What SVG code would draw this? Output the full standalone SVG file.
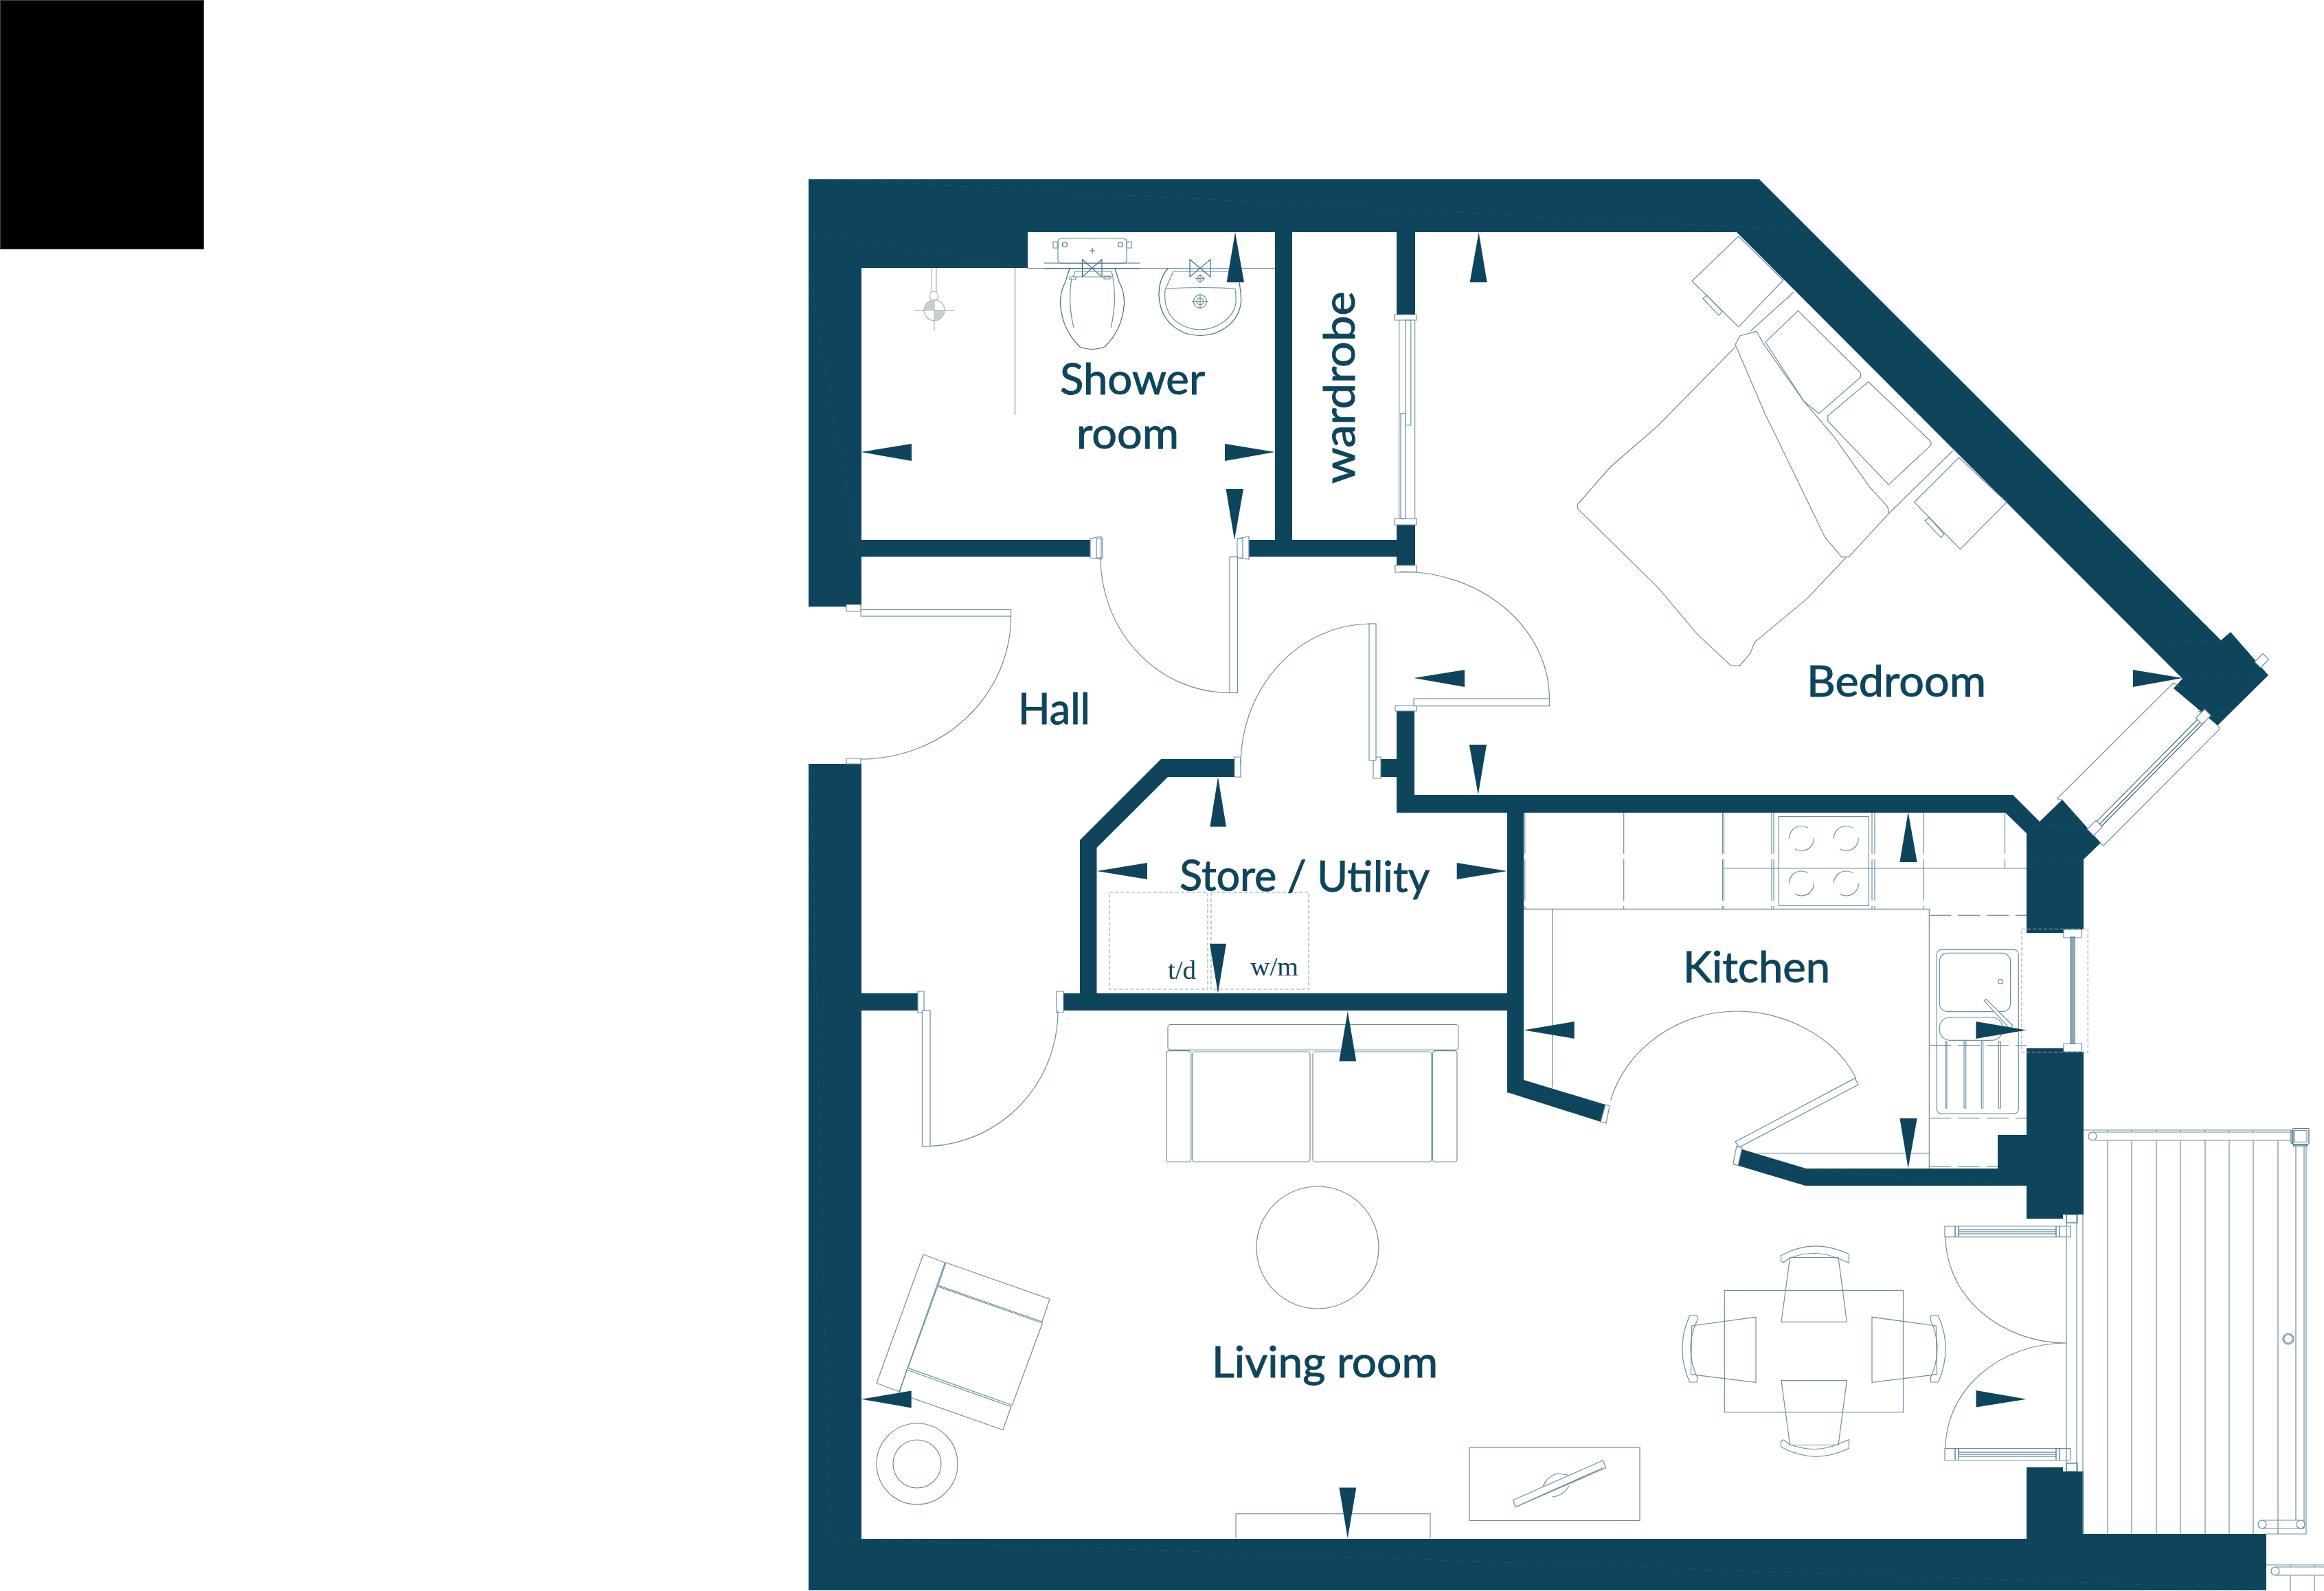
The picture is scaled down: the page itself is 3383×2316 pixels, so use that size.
<svg xmlns="http://www.w3.org/2000/svg" xmlns:xlink="http://www.w3.org/1999/xlink" width="3383" height="2316" viewBox="0 0 3383 2316">
<style>
.w{fill:#0f455c}
.a{fill:#0f455c}
.l{fill:none;stroke:#6c909f;stroke-width:1.2}
.d{fill:none;stroke:#3f6c80;stroke-width:1.2}
.f{fill:#fff;stroke:#6c909f;stroke-width:1.2}
.g{fill:none;stroke:#a9b4b8;stroke-width:1.2}
.h{fill:none;stroke:#6c909f;stroke-width:1.2;stroke-dasharray:60 8}
.k{fill:none;stroke:#6c909f;stroke-width:1.2;stroke-dasharray:32 10}
.s{fill:none;stroke:#8ba6b1;stroke-width:1.1;stroke-dasharray:5 3}
.x{fill:none;stroke:#1c5269;stroke-width:1;stroke-dasharray:14 10}
.t{fill:#0f455c;stroke:#0f455c;stroke-width:1;font-family:"Lato","Liberation Sans",sans-serif;font-size:62px}
.u{fill:#0f455c;font-family:"Liberation Serif",serif;font-size:37px}
</style>
<defs>
<g id="chair">
<path class="l" d="M2593 1924.4H2688.4L2676 1830.5H2605.6Z"/>
<path class="l" d="M2592.5 1827.7Q2641 1801 2691.5 1825.7L2691.5 1838.3L2676 1832Q2641 1817 2604 1832L2596 1838.3L2592.5 1835Z"/>
</g>
<g id="chairside">
<path class="l" d="M2556 1917.3V2012.4L2461.4 2000.6L2462.7 1930Z"/>
<path class="l" d="M2459.6 1915L2470 1915L2471 1921Q2451 1963 2471 2006L2470 2012L2459.6 2012Q2438 1963 2459.6 1915Z"/>
</g>
</defs>

<rect id="black-block" x="0.5" y="0.5" width="296" height="362" fill="#000" stroke="#444" stroke-width="1"/>

<g id="walls">
<polygon class="w" points="1177,261 2561,261 3233,932 3247,920 3302,983 3228,1056 3164,1002 3177,988 2528,338 1496,338 1496,390 1254,390 1254,883 1177,883"/>
<polygon class="w" points="1177,1112 1254,1112 1254,2240 2950,2240 2950,2136 3003,2136 3003,2142 3033,2142 3033,2233 3299,2233 3299,2315 1177,2315"/>
<rect class="w" x="1254" y="786" width="342" height="24.5"/>
<rect class="w" x="1809" y="786" width="224" height="24.5"/>
<rect class="w" x="1856" y="338" width="25" height="448"/>
<rect class="w" x="2033" y="338" width="27" height="120"/>
<rect class="w" x="2033" y="762" width="27" height="62"/>
<polygon class="w" points="2033,1035 2059,1035 2059,1157 2930,1157 2969,1196 3002,1164 3058,1227 3033,1251 3033,1353 3004,1353 3004,1358 2950,1358 2950,1213 2919,1183 2033,1183"/>
<rect class="w" x="2010" y="1105" width="25" height="26"/>
<polygon class="w" points="1690,1105 1797,1105 1797,1131 1700,1131 1596.5,1234 1596.5,1446 1572,1446 1572,1223"/>
<rect class="w" x="1548" y="1446" width="670" height="25"/>
<rect class="w" x="1254" y="1446" width="82" height="25"/>
<polygon class="w" points="2194,1183 2218,1183 2218,1572 2337,1608 2330,1633 2194,1590"/>
<polygon class="w" points="2950,1526 3004,1526 3004,1531 3033,1531 3033,1768 3003,1768 3003,1774 2950,1774 2950,1726 2628,1726 2524,1695 2536,1673 2629,1701 2908,1701 2908,1652 2950,1652"/>
<path class="x" d="M1206 261L2630 336M1177 337L1496 390M1178 395L1254 840M1180 1112L1208 2240L3297 2313M3127 933H3233M3172 982.5H3300M3165 1001.5H3282M3200 1036H3248M2960 1201.5H3032M2960 1250H3033M2524 1695L2950 1726M2194 1590L2337 1608"/>
</g>

<g id="jambs">
<path class="f" d="M1232 880h21v10h-21zM1232 1104h21v8h-21zM1596 784h9v28h-9zM1587 784l16 -3v33l-16 -2zM1801 784h8v28h-8zM1818 781l-17 3v28l17 2zM2030 458h32v8h-32zM2030 755h32v9h-32zM2031 823h31v10h-31zM2031 1027h31v8h-31zM1797 1102h9v29h-9zM1999 1102h11v31h-11zM1336 1443h9v31h-9zM1538 1443h10v31h-10z"/>
<path class="f" d="M2337 1608l6 2l-5 25l-8 -2zM2528 1668l8 3l-6 26l-7 -3z"/>
</g>

<g id="doors">
<rect class="f" x="1253.3" y="887.5" width="218.3" height="9.5"/>
<path class="l" d="M1471.6 897A218 208 0 0 1 1253 1105"/>
<rect class="f" x="1790" y="810.7" width="11.4" height="197.8"/>
<path class="l" d="M1790 1008.5A188 197 0 0 1 1602 811"/>
<rect class="f" x="2058" y="1017" width="197.5" height="10.7"/>
<path class="l" d="M2255.5 1018A216 186 0 0 0 2038 832"/>
<rect class="f" x="1993" y="908" width="10" height="198.7"/>
<path class="l" d="M1993 908A190 205 0 0 0 1806 1112"/>
<rect class="f" x="1342.4" y="1471" width="11.6" height="197.8"/>
<path class="l" d="M1354 1668.5A195 197 0 0 0 1540 1471"/>
<polygon class="f" points="2526,1662 2700,1569.6 2705,1579 2532,1670"/>
<path class="l" d="M2702 1570C2672 1510 2600 1472 2528 1472C2440 1472 2365 1530 2344.5 1602"/>
<path class="l" d="M2832 1800.6A176 155 0 0 0 3008 1955A176 153 0 0 0 2832 2108.6"/>
<path class="f" d="M2831 1785H3014V1800.6H2831ZM2831 2108.6H3014V2125.5H2831Z"/>
<path class="d" d="M2851 1785v15.6M2846 1785v15.6M2993 1785v15.6M2998 1785v15.6M2851 1790H2993M2851 1793H2993M2851 1796H2993M2851 2108.6v16.9M2846 2108.6v16.9M2993 2108.6v16.9M2998 2108.6v16.9M2851 2114H2993M2851 2117H2993M2851 2120H2993"/>
<rect class="d" x="3008" y="1768" width="16" height="12"/>
<rect class="d" x="3008" y="2130" width="16" height="12"/>
</g>

<g id="windows">
<path class="l" d="M3164 994L2994 1163M3231.7 1060.7L3062 1231M3228 1056L3231.7 1060.7M3057 1226.7L3062 1231M2994 1163L3002 1164M3164 994L3172 999"/>
<path class="d" d="M3203 1043L3047 1201M3207 1047L3051 1205M3210 1050L3054 1208"/>
<rect class="f" x="3198" y="1037" width="18" height="13" transform="rotate(-45 3207 1043)"/>
<rect class="f" x="3040" y="1199" width="18" height="13" transform="rotate(-45 3049 1205)"/>
<rect class="f" x="3284" y="956" width="17" height="12" transform="rotate(-45 3292 962)"/>
<path class="s" d="M2943 1352.3H3039.3V1531.7H2943Z"/>
<path class="f" d="M3004 1353h26v12h-26zM3004 1519h26v12h-26z"/>
<path class="d" d="M3014 1363.3V1520M3016 1363.3V1520M3018 1363.3V1520M3020 1363.3V1520"/>
<path class="l" d="M2036.6 466V755M2039 601.6V755H2046V601.6ZM2045.8 466V619H2053.8V466ZM2059.6 466V755"/>
</g>

<g id="shower-room">
<path class="l" d="M1496 390.7H1856M1477.5 390V603.6"/>
<path class="d" d="M1520 383H1660M1520 390.7H1660"/>
<rect class="l" x="1540" y="347" width="100" height="36.5" rx="5"/>
<path class="l" d="M1533 352h7v9h-7zM1640 352h7v9h-7z"/>
<circle class="d" cx="1550" cy="356" r="3.5"/>
<circle class="d" cx="1631" cy="356" r="3.5"/>
<path class="d" d="M1586 365h8M1590 361v8"/>
<path class="d" d="M1575.6 377.7L1604 403V377.7L1575.6 403Z"/>
<path class="d" d="M1557 391L1551 410Q1543 425 1543.5 442Q1546 480 1572 505Q1590 512 1608 505Q1634 480 1636.5 442Q1637 425 1629 410L1623 391"/>
<path class="l" d="M1565 395H1618L1620 403H1562ZM1557 403H1566v4h-9zM1607 402H1616v4h-9z"/>
<path class="l" d="M1560 405Q1554 440 1563 477M1620 405Q1626 440 1617 477"/>
<path class="d" d="M1700 391Q1687 405 1687 430Q1689 470 1725 485Q1747 492 1769 485Q1805 470 1806.7 437Q1806 415 1800 395"/>
<path class="l" d="M1790 395H1708L1696 422Q1693 455 1715 470Q1747 490 1779 470Q1801 455 1799 433Q1799 425 1798 420"/>
<path class="l" stroke-width="2" d="M1697 420Q1747 417 1798 420"/>
<path class="d" d="M1732 377.7L1762 403V377.7L1732 403Z"/>
<circle class="l" cx="1747" cy="405.7" r="4.5"/>
<path class="l" d="M1740 405.7h14M1747 399v13"/>
<circle class="l" cx="1747" cy="438.7" r="9.5"/>
<circle class="l" cx="1747" cy="438.7" r="5"/>
<path class="l" d="M1735 438.7h24M1747 427v23"/>
<path class="g" d="M1356 390V425M1363 390V425"/>
<ellipse class="g" cx="1359.5" cy="431" rx="6" ry="7"/>
<circle class="g" cx="1360" cy="451.6" r="15"/>
<path class="g" d="M1330.5 451.6H1389.6M1360 437V482"/>
<path fill="#c8cdcf" d="M1345 451.6A15 15 0 0 1 1360 436.6V451.6ZM1375 451.6A15 15 0 0 1 1360 466.6V451.6Z"/>
</g>

<g id="bedroom">
<path class="l" d="M2526.4 504.7L2413.6 619.5L2344 680L2296.6 734V740.6L2413.6 855.4L2470 922.4L2519.5 969H2532.5L2548 951L2554 935L2630.5 871.4L2686.8 812"/>
<path class="l" d="M2526 501.5L2533 488.7L2556.8 482.3L2569.8 504.7L2626 584.4L2669.5 635.4L2721.5 708.8L2747.6 737.4L2750 747L2691 810.8H2680.8L2656.5 782L2587 638.6L2569.8 603.5Z"/>
<path class="l" d="M2548 482L2611.4 425M2750 747L2843 655.8"/>
<path class="l" d="M2617.5 452.4L2708.6 543V549L2647.8 602L2626 584L2569.8 498Z"/>
<path class="l" d="M2719.8 555.7L2810.9 643V648L2749.3 705.6L2660.8 613V605Z"/>
<path class="l" d="M2530.7 344L2595.8 407.7L2530.7 476L2463 409Z"/>
<path class="l" d="M2479 434.5L2484.8 430L2507.3 453.6L2502 458.8Z"/>
<path class="l" d="M2851.6 666L2921 731L2853.4 799.3L2786.6 731Z"/>
<path class="l" d="M2802 757.9L2808 753.4L2830 777.6L2825.6 782.7Z"/>
</g>

<g id="store-utility">
<rect class="s" x="1615" y="1299" width="143" height="141"/>
<rect class="s" x="1763" y="1299" width="142" height="141"/>
</g>

<g id="kitchen">
<path class="l" d="M2218 1323.3H2808.3V1701M2509 1264H2950M2259.6 1323V1583M2559 1678.6H2808.3"/>
<path class="h" d="M2219.8 1183V1323M2363.7 1183V1323M2507.5 1183V1323M2509.5 1183V1323M2579 1183V1323M2582 1183V1323M2725 1183V1323M2729 1183V1323M2800 1183V1323M2918.5 1183V1264"/>
<path class="k" d="M2808 1332.4H2950M2808 1521.7H2950M2808 1627.6H2950M2808 1698.5H2908"/>
<rect class="l" x="2589.4" y="1188.6" width="131" height="129.7"/>
<g id="hob">
<circle cx="2622.4" cy="1220.5" r="18" class="l" stroke-dasharray="38 18"/>
<circle cx="2687.4" cy="1220.5" r="18" class="l" stroke-dasharray="38 18"/>
<circle cx="2622.4" cy="1286" r="18" class="l" stroke-dasharray="38 18"/>
<circle cx="2687.4" cy="1286" r="18" class="l" stroke-dasharray="38 18"/>
</g>
<rect class="l" x="2819.3" y="1382.3" width="119" height="239" rx="7"/>
<rect class="l" x="2823.3" y="1387.3" width="103.4" height="85.4" rx="12"/>
<rect class="l" x="2823.3" y="1481" width="91.7" height="33.3" rx="15"/>
<circle class="l" cx="2912.3" cy="1428.7" r="3.3"/>
<path class="f" d="M2888.3 1456.7L2891.5 1454.5L2930 1493L2925 1497Z"/>
<path class="l" d="M2832 1516.7V1613H2834V1516.7ZM2859 1516.7V1613H2861.7V1516.7ZM2884.3 1516.7V1613H2886.7V1516.7ZM2909.3 1516.7V1613H2912.3V1516.7Z"/>
</g>

<g id="living-room">
<rect class="l" x="1700" y="1491.4" width="422.7" height="37" rx="4"/>
<rect class="l" x="1698" y="1529.6" width="35.8" height="161.8" rx="4"/>
<rect class="l" x="1735.5" y="1531" width="171.5" height="160.4" rx="4"/>
<rect class="l" x="1911" y="1531" width="173" height="160.4" rx="4"/>
<rect class="l" x="2085.5" y="1529.6" width="35.5" height="161.8" rx="4"/>
<circle class="l" cx="1918" cy="1816" r="89"/>
<path class="l" d="M1344 1826L1375.6 1838L1309 2025.7L1276 2013.5Z"/>
<path class="l" d="M1377 1838L1528 1891L1517 1924L1365.6 1871Z"/>
<path class="l" d="M1365 1872.6L1517.4 1926L1473.4 2045.6L1321.7 1991.4Z"/>
<path class="l" d="M1320 1994L1471.8 2047.8L1460 2081.5L1309 2028.5Z"/>
<circle class="l" cx="1335" cy="2131" r="59"/>
<circle class="l" cx="1335" cy="2131" r="35"/>
<rect class="l" x="2139" y="2107" width="248" height="106.5"/>
<path class="l" d="M2333.3 2126L2337.4 2136.7L2206.4 2193.6L2202.3 2183.7ZM2206.4 2193.6L2333.3 2136.7M2246 2164Q2252 2149 2267 2145L2282 2147M2259 2179Q2275 2178 2284 2163"/>
<path class="l" d="M1799 2239V2203.6H2082V2239"/>
<rect class="l" x="2510.3" y="1878.4" width="260.2" height="177.2"/>
<use xlink:href="#chair" href="#chair"/>
<use xlink:href="#chair" href="#chair" transform="translate(0 3934) scale(1 -1)"/>
<use xlink:href="#chairside" href="#chairside"/>
<use xlink:href="#chairside" href="#chairside" transform="translate(5281 0) scale(-1 1)"/>
</g>

<g id="balcony">
<path class="l" d="M3008 1768V2142M3023 1768V2142M3032 1768V2233"/>
<path class="l" d="M3033 1645H3335M3046 1648H3335M3050 1660H3335"/>
<circle class="l" cx="3046" cy="1654" r="6"/>
<path class="l" d="M3068 1645v3M3103 1645v3M3139 1645v3M3174 1645v3M3210 1645v3M3245 1645v3M3280 1645v3"/>
<path class="l" d="M3068 1660V2233M3103 1660V2233M3139 1660V2233M3174 1660V2233M3210 1660V2233M3245 1660V2233M3280 1660V2233M3316 1660V2233"/>
<rect class="d" x="3335" y="1646" width="3" height="18"/>
<rect class="d" x="3337.5" y="1642.5" width="23.5" height="23" rx="1.5"/>
<rect class="l" x="3340" y="1645.5" width="18" height="17"/>
<rect class="d" x="3338.5" y="1666" width="20" height="2"/>
<path class="l" d="M3342 1668V2213M3354 1668V2225M3357 1668V2233H3299"/>
<path class="l" d="M3293 2213H3349M3293 2225H3354"/>
<circle class="f" cx="3293" cy="2219" r="6"/>
<circle class="f" cx="3349" cy="2219" r="6"/>
<circle class="l" cx="3331" cy="1949" r="8"/>
<circle class="l" cx="3331" cy="1949" r="6.3"/>
<path class="l" d="M3299 2278H3383M3312 2281H3383M3312 2293H3383M3334 2278v3M3369 2278v3M3334 2293V2316M3369 2293V2316"/>
<circle class="f" cx="3312" cy="2287" r="6"/>
</g>

<g id="dimension-arrows">
<polygon class="a" points="1798,338 1785.7,411 1811,411"/>
<polygon class="a" points="1253.6,658 1327,646 1327,671"/>
<polygon class="a" points="1856,658 1783,646 1783,671"/>
<polygon class="a" points="1797,786 1784.6,712 1810,712"/>
<polygon class="a" points="2152.6,338 2139.6,411 2164.7,411"/>
<polygon class="a" points="2058,987 2132,975 2132,1000"/>
<polygon class="a" points="2151.7,1157 2138.7,1084 2164,1084"/>
<polygon class="a" points="3177,987 3105,975 3105,1000"/>
<polygon class="a" points="1773,1131 1761.4,1203.6 1785,1203.6"/>
<polygon class="a" points="1596.5,1268 1670,1256 1670,1280"/>
<polygon class="a" points="2194,1268 2120.7,1256 2120.7,1280"/>
<polygon class="a" points="1773,1446 1761,1373.7 1785,1373.7"/>
<polygon class="a" points="2777.7,1182 2765.4,1255 2790.7,1255"/>
<polygon class="a" points="2218,1499.5 2291.7,1487 2291.7,1512"/>
<polygon class="a" points="2950,1499.5 2876.4,1487 2876.4,1512"/>
<polygon class="a" points="2777.7,1701 2765.4,1628 2790.7,1628"/>
<polygon class="a" points="1961.8,1472 1949.4,1545 1974.3,1545"/>
<polygon class="a" points="1253.7,2036.7 1326.7,2024.6 1326.7,2049.4"/>
<polygon class="a" points="1961.8,2239.5 1949.4,2165.5 1974.3,2165.5"/>
<polygon class="a" points="2950,2036.7 2876.5,2024 2876.5,2048.5"/>
</g>

<g id="labels">
<text class="t" x="1543" y="574" textLength="211" lengthAdjust="spacingAndGlyphs">Shower</text>
<text class="t" x="1567" y="653" textLength="149" lengthAdjust="spacingAndGlyphs">room</text>
<text class="t" transform="translate(1972 704) rotate(-90)" textLength="280" lengthAdjust="spacingAndGlyphs">wardrobe</text>
<text class="t" x="1482" y="1054" textLength="105" lengthAdjust="spacingAndGlyphs">Hall</text>
<text class="t" transform="translate(1717 1296) rotate(0.4)" textLength="364" lengthAdjust="spacingAndGlyphs">Store / Utility</text>
<text class="t" x="2450" y="1430" textLength="214" lengthAdjust="spacingAndGlyphs">Kitchen</text>
<text class="t" x="2630" y="1014" textLength="261" lengthAdjust="spacingAndGlyphs">Bedroom</text>
<text class="t" x="1764" y="2005" textLength="329" lengthAdjust="spacingAndGlyphs">Living room</text>
<text class="u" x="1700" y="1425" textLength="41" lengthAdjust="spacingAndGlyphs">t/d</text>
<text class="u" x="1820" y="1420" textLength="70" lengthAdjust="spacingAndGlyphs">w/m</text>
</g>
</svg>
